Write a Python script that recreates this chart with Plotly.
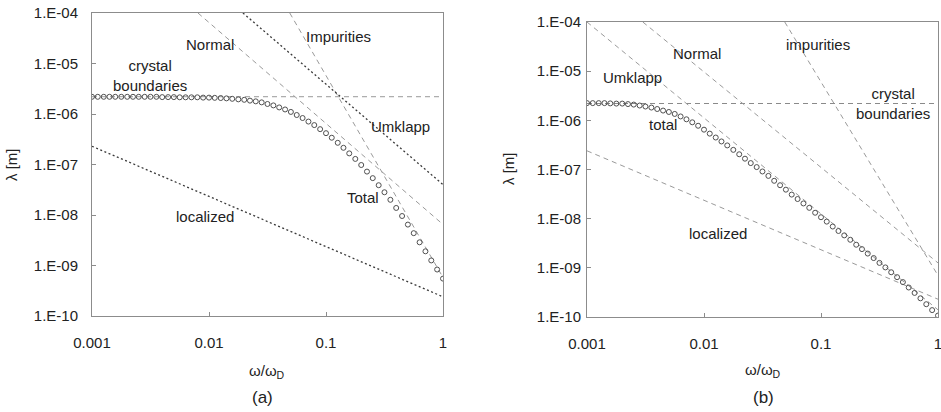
import plotly.graph_objects as go

# Reduced frequency omega/omega_D sampled for the total mean free path
omega = [0.001, 0.00112, 0.00126, 0.00141, 0.00158, 0.00178, 0.002, 0.00224, 0.00251, 0.00282,
         0.00316, 0.00355, 0.00398, 0.00447, 0.00501, 0.00562, 0.00631, 0.00708, 0.00794, 0.00891,
         0.01, 0.0112, 0.0126, 0.0141, 0.0158, 0.0178, 0.02, 0.0224, 0.0251, 0.0282,
         0.0316, 0.0355, 0.0398, 0.0447, 0.0501, 0.0562, 0.0631, 0.0708, 0.0794, 0.0891,
         0.1, 0.112, 0.126, 0.141, 0.158, 0.178, 0.2, 0.224, 0.251, 0.282,
         0.316, 0.355, 0.398, 0.447, 0.501, 0.562, 0.631, 0.708, 0.794, 0.891, 1.0]

# Total mean free path, panel (a)
total_a = [2.19e-6, 2.19e-6, 2.19e-6, 2.19e-6, 2.19e-6, 2.19e-6, 2.19e-6, 2.19e-6, 2.19e-6, 2.19e-6,
           2.19e-6, 2.19e-6, 2.16e-6, 2.16e-6, 2.16e-6, 2.14e-6, 2.14e-6, 2.14e-6, 2.14e-6, 2.11e-6,
           2.11e-6, 2.09e-6, 2.07e-6, 2.04e-6, 2.0e-6, 1.95e-6, 1.91e-6, 1.84e-6, 1.78e-6, 1.70e-6,
           1.58e-6, 1.48e-6, 1.35e-6, 1.23e-6, 1.10e-6, 9.55e-7, 8.32e-7, 7.08e-7, 6.03e-7, 5.01e-7,
           4.17e-7, 3.39e-7, 2.69e-7, 2.14e-7, 1.66e-7, 1.29e-7, 9.77e-8, 7.24e-8, 5.37e-8, 3.89e-8,
           2.82e-8, 2.0e-8, 1.38e-8, 9.55e-9, 6.46e-9, 4.37e-9, 2.88e-9, 1.91e-9, 1.26e-9, 8.32e-10, 5.5e-10]

# Total mean free path, panel (b)
total_b = [2.24e-6, 2.24e-6, 2.24e-6, 2.24e-6, 2.21e-6, 2.19e-6, 2.19e-6, 2.14e-6, 2.09e-6, 2.0e-6,
           1.91e-6, 1.82e-6, 1.70e-6, 1.58e-6, 1.48e-6, 1.35e-6, 1.20e-6, 1.05e-6, 9.12e-7, 7.76e-7,
           6.46e-7, 5.37e-7, 4.47e-7, 3.72e-7, 3.09e-7, 2.51e-7, 2.04e-7, 1.66e-7, 1.35e-7, 1.12e-7,
           9.12e-8, 7.41e-8, 5.89e-8, 4.79e-8, 3.89e-8, 3.09e-8, 2.51e-8, 2.04e-8, 1.66e-8, 1.32e-8,
           1.07e-8, 8.71e-9, 6.92e-9, 5.62e-9, 4.57e-9, 3.72e-9, 2.95e-9, 2.40e-9, 1.95e-9, 1.58e-9,
           1.26e-9, 1.02e-9, 8.13e-10, 6.46e-10, 5.13e-10, 3.98e-10, 3.09e-10, 2.40e-10, 1.82e-10, 1.38e-10, 1.07e-10]

# Individual scattering mechanisms: straight lines in log-log (end points)
boundary_x = [0.001, 1.0]
boundary_a = [2.2e-6, 2.2e-6]
boundary_b = [2.2e-6, 2.2e-6]

normal_a_x = [0.00805, 1.0]
normal_a_y = [1e-4, 6.5e-9]
umklapp_a_x = [0.0195, 1.0]
umklapp_a_y = [1e-4, 4.0e-8]
impurity_a_x = [0.049, 1.0]
impurity_a_y = [1e-4, 5.8e-10]
localized_a_x = [0.001, 1.0]
localized_a_y = [2.3e-7, 2.4e-10]

normal_b_x = [0.003, 1.0]
normal_b_y = [1e-4, 1.26e-9]
umklapp_b_x = [0.001, 1.0]
umklapp_b_y = [1e-4, 1.4e-10]
impurity_b_x = [0.049, 1.0]
impurity_b_y = [1e-4, 7.0e-10]
localized_b_x = [0.001, 1.0]
localized_b_y = [2.4e-7, 2.3e-10]

x_ticks = [0.001, 0.01, 0.1, 1]
x_tick_text = ["0.001", "0.01", "0.1", "1"]
y_ticks = [1e-4, 1e-5, 1e-6, 1e-7, 1e-8, 1e-9, 1e-10]
y_tick_text = ["1.E-04", "1.E-05", "1.E-06", "1.E-07", "1.E-08", "1.E-09", "1.E-10"]

FONT = "Liberation Sans, Arial, sans-serif"
TXT = "#222222"
DASH = "5px,4px"
LIGHT = "#9a9a9a"
DARK = "#3a3a3a"

fig = go.Figure()


def line(x, y, axis, color, dash, width=1.0):
    fig.add_trace(go.Scatter(x=x, y=y, mode="lines", xaxis="x" + axis, yaxis="y" + axis,
                             line=dict(color=color, dash=dash, width=width),
                             showlegend=False, hoverinfo="skip"))


# Panel (a)
line(boundary_x, boundary_a, "", LIGHT, DASH)
line(normal_a_x, normal_a_y, "", LIGHT, DASH)
line(impurity_a_x, impurity_a_y, "", LIGHT, DASH)
line(umklapp_a_x, umklapp_a_y, "", DARK, "2px,2.5px", 1.3)
line(localized_a_x, localized_a_y, "", DARK, "2px,2.5px", 1.3)
fig.add_trace(go.Scatter(x=omega, y=total_a, mode="markers", xaxis="x", yaxis="y",
                         marker=dict(symbol="circle-open", size=5, color="#505050",
                                     line=dict(width=1, color="#505050")),
                         showlegend=False))

# Panel (b)
line(boundary_x, boundary_b, "2", "#8a8a8a", DASH)
line(normal_b_x, normal_b_y, "2", LIGHT, DASH)
line(impurity_b_x, impurity_b_y, "2", LIGHT, DASH)
line(umklapp_b_x, umklapp_b_y, "2", LIGHT, DASH)
line(localized_b_x, localized_b_y, "2", LIGHT, DASH)
fig.add_trace(go.Scatter(x=omega, y=total_b, mode="markers", xaxis="x2", yaxis="y2",
                         marker=dict(symbol="circle-open", size=5, color="#505050",
                                     line=dict(width=1, color="#505050")),
                         showlegend=False))

W, H = 941, 412


def px_x(p):
    return p / W


def px_y(p):
    return 1 - p / H


axis_common = dict(type="log", showgrid=False, zeroline=False, showline=True, linecolor="#8c8c8c",
                   linewidth=1, mirror=True, ticks="inside", ticklen=4, tickcolor="#8c8c8c",
                   automargin=False, ticklabeloverflow="allow",
                   tickfont=dict(family=FONT, size=15, color=TXT))

xa = dict(axis_common, range=[-3, 0], tickvals=x_ticks, ticktext=x_tick_text)
ya = dict(axis_common, range=[-10, -4], tickvals=y_ticks, ticktext=y_tick_text)

fig.update_layout(
    width=W, height=H, margin=dict(l=0, r=0, t=0, b=0, autoexpand=False),
    paper_bgcolor="white", plot_bgcolor="white",
    xaxis=dict(xa, domain=[px_x(92), px_x(443)], anchor="y", ticklabelstandoff=13),
    yaxis=dict(ya, domain=[px_y(316), px_y(13)], anchor="x", ticklabelstandoff=10),
    xaxis2=dict(xa, domain=[px_x(587), px_x(938)], anchor="y2", ticklabelstandoff=13),
    yaxis2=dict(ya, domain=[px_y(317), px_y(22)], anchor="x2", ticklabelstandoff=2),
)

labels = [
    # (text, x px, y px)
    ("Normal", 210, 45), ("Impurities", 338, 37), ("crystal<br>boundaries", 150, 75),
    ("Umklapp", 400, 127), ("Total", 363, 197), ("localized", 205, 216),
    ("Normal", 697, 53), ("impurities", 818, 45), ("Umklapp", 632, 77),
    ("crystal<br>boundaries", 893, 103), ("total", 663, 125), ("localized", 718, 233),
    ("λ [m]", 12, 165), ("λ [m]", 508, 168),
    ("ω/ω<sub>D</sub>", 267, 371), ("ω/ω<sub>D</sub>", 763, 370),
    ("(a)", 262, 397), ("(b)", 763, 397),
]
for text, x, y in labels:
    rot = -90 if text.startswith("λ") else 0
    size = 17 if text.startswith("(") else 15
    fig.add_annotation(text=text, x=px_x(x), y=px_y(y), xref="paper", yref="paper",
                       showarrow=False, textangle=rot, xanchor="center", yanchor="middle",
                       font=dict(family=FONT, size=size, color=TXT))

fig.write_html("out.html")
